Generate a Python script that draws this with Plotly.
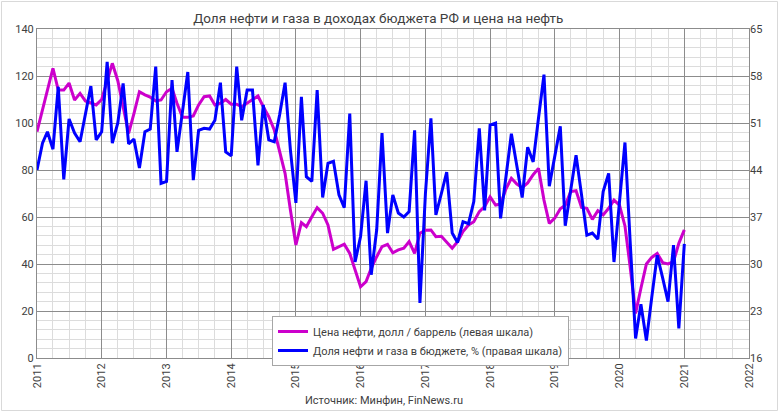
import plotly.graph_objects as go
import pandas as pd

# Monthly data, Jan 2011 .. Jan 2021
oil_price = [
    96.3, 105, 114, 123.3, 114, 114, 117, 109.8, 112.6, 109.4, 108.5, 107.7,   # 2011
    110, 118, 125.4, 118, 107, 95.6, 104, 113.3, 112, 111, 109.4, 109.8,        # 2012
    113.3, 114.8, 108.4, 102.4, 102.4, 103, 107.7, 111.2, 111.5, 107.7, 108.4, 110,  # 2013
    108, 108, 106.9, 108.4, 109.8, 111.5, 106.9, 102.7, 97, 88.5, 78.6, 63,     # 2014
    48.1, 57.6, 55.9, 60.1, 64, 61.6, 56.6, 46.2, 47.4, 48.4, 44.5, 37.4,       # 2015
    30.3, 32.5, 38.2, 43.1, 47.4, 48.4, 44.8, 46, 46.7, 49.5, 44.5, 53.1,       # 2016
    54.4, 54.5, 51.6, 51.8, 49.5, 46.7, 49.5, 53.8, 56.6, 58, 62.3, 64.4,       # 2017
    68.6, 65.1, 65.5, 72.0, 76.5, 74, 72.5, 74.5, 78, 80.7, 67.2, 57.3,         # 2018
    59.5, 63.5, 65, 70.8, 71.2, 64.1, 63.7, 59, 62.7, 60.9, 63.7, 67.2,         # 2019
    65.1, 56.2, 38.9, 19.0, 29.7, 40, 42.8, 44.5, 40.6, 40, 41, 48.8,           # 2020
    54.5,                                                                        # 2021
]

oil_gas_share = [
    44.0, 48.0, 49.7, 47.1, 56.4, 42.6, 51.6, 49.5, 48.2, 52.4, 56.5, 48.5,     # 2011
    49.7, 60.1, 48.0, 51.0, 56.9, 47.9, 48.6, 44.3, 49.7, 50.1, 59.4, 42.0,     # 2012
    42.3, 57.4, 46.7, 52.7, 58.6, 42.5, 49.9, 50.2, 50.1, 51.4, 57.0, 46.7,     # 2013
    46.1, 59.4, 51.4, 55.9, 55.9, 44.7, 53.7, 48.5, 48.2, 52.2, 57.0, 47.0,     # 2014
    39.1, 54.9, 43.0, 42.3, 55.9, 39.9, 45.0, 45.3, 40.3, 38.4, 52.4, 30.3,     # 2015
    34.1, 42.4, 28.4, 35.1, 49.5, 34.6, 40.3, 37.6, 37.0, 37.8, 49.9, 24.2,     # 2016
    40.5, 51.7, 37.3, 40.5, 43.7, 34.6, 33.2, 36.3, 36.0, 39.3, 50.2, 38.0,     # 2017
    50.7, 51.0, 36.8, 43.1, 49.4, 44.6, 39.9, 47.4, 45.2, 51.7, 58.2, 41.6,     # 2018
    46.1, 50.5, 35.7, 41.0, 46.2, 40.3, 34.3, 34.6, 33.7, 40.8, 43.5, 30.3,     # 2019
    39.2, 48.1, 33.5, 18.9, 24.0, 18.6, 25.0, 31.3, 27.9, 24.4, 32.8, 20.4,     # 2020
    33.0,                                                                        # 2021
]

months = pd.date_range("2011-01-01", periods=len(oil_price), freq="MS")

title_text = "Доля нефти и газа в доходах бюджета РФ и цена на нефть"
name_oil = "Цена нефти, долл / баррель (левая шкала)"
name_share = "Доля нефти и газа в бюджете, % (правая шкала)"
source_text = "Источник: Минфин, FinNews.ru"

left_ticks = list(range(0, 141, 20))
right_ticks = list(range(16, 66, 7))

FONT = "Roboto"
TXT = "#404040"
MAJOR = "#8c8c8c"
MINOR = "#dcdcdc"

fig = go.Figure()
fig.add_trace(go.Scatter(x=months, y=oil_price, name=name_oil, mode="lines",
                         line=dict(color="#cc00cc", width=3), yaxis="y"))
fig.add_trace(go.Scatter(x=months, y=oil_gas_share, name=name_share, mode="lines",
                         line=dict(color="#0000ff", width=3), yaxis="y2"))

W, H = 780, 413
L, R, T, B = 37, 31, 29, 55
pw, ph = W - L - R, H - T - B

fig.update_layout(
    width=W, height=H,
    margin=dict(l=L, r=R, t=T, b=B, autoexpand=False),
    paper_bgcolor="white", plot_bgcolor="white",
    font=dict(family=FONT, color=TXT, size=11),
    title=dict(text=title_text, x=0.485, xanchor="center", y=1 - 18 / H, yanchor="middle",
               font=dict(family=FONT, size=13.5, color=TXT), automargin=False),
    showlegend=True,
    legend=dict(x=(272 - L) / pw, y=(358 - 316) / ph, xanchor="left", yanchor="top",
                bgcolor="white", bordercolor="#a6a6a6", borderwidth=1,
                font=dict(family=FONT, size=11, color=TXT), tracegroupgap=0),
    xaxis=dict(
        type="date", range=["2011-01-01", "2022-01-01"], automargin=False,
        tick0="2011-01-01", dtick="M12", tickformat="%Y", tickangle=-90,
        showgrid=True, gridcolor=MAJOR, gridwidth=1,
        minor=dict(dtick="M3", showgrid=True, gridcolor=MINOR, gridwidth=1),
        showline=True, linecolor=MAJOR, mirror=True, ticks="",
        tickfont=dict(family=FONT, size=11, color=TXT),
        zeroline=False,
    ),
    yaxis=dict(
        range=[0, 140], tickvals=left_ticks, automargin=False,
        showgrid=True, gridcolor=MAJOR, gridwidth=1,
        minor=dict(dtick=4, showgrid=True, gridcolor=MINOR, gridwidth=1),
        showline=True, linecolor=MAJOR, mirror=True, ticks="",
        tickfont=dict(family=FONT, size=11, color=TXT), zeroline=False,
    ),
    yaxis2=dict(
        range=[16, 65], tickvals=right_ticks, overlaying="y", side="right", automargin=False,
        showgrid=False, showline=False, ticks="", zeroline=False,
        tickfont=dict(family=FONT, size=11, color=TXT),
    ),
    annotations=[dict(text=source_text, xref="paper", yref="paper",
                      x=(384 - L) / pw, y=(358 - 400) / ph, xanchor="center", yanchor="middle",
                      showarrow=False, font=dict(family=FONT, size=11, color=TXT))],
    shapes=[dict(type="rect", xref="paper", yref="paper",
                 x0=-(L - 1.5) / pw, x1=1 + (R - 2.5) / pw,
                 y0=-(B - 2.5) / ph, y1=1 + (T - 1.5) / ph,
                 line=dict(color="#d9d9d9", width=1), layer="below")],
)

fig.write_html("out.html", config={"displayModeBar": False},
               post_script="document.body.style.margin='0';document.body.style.overflow='hidden';")
